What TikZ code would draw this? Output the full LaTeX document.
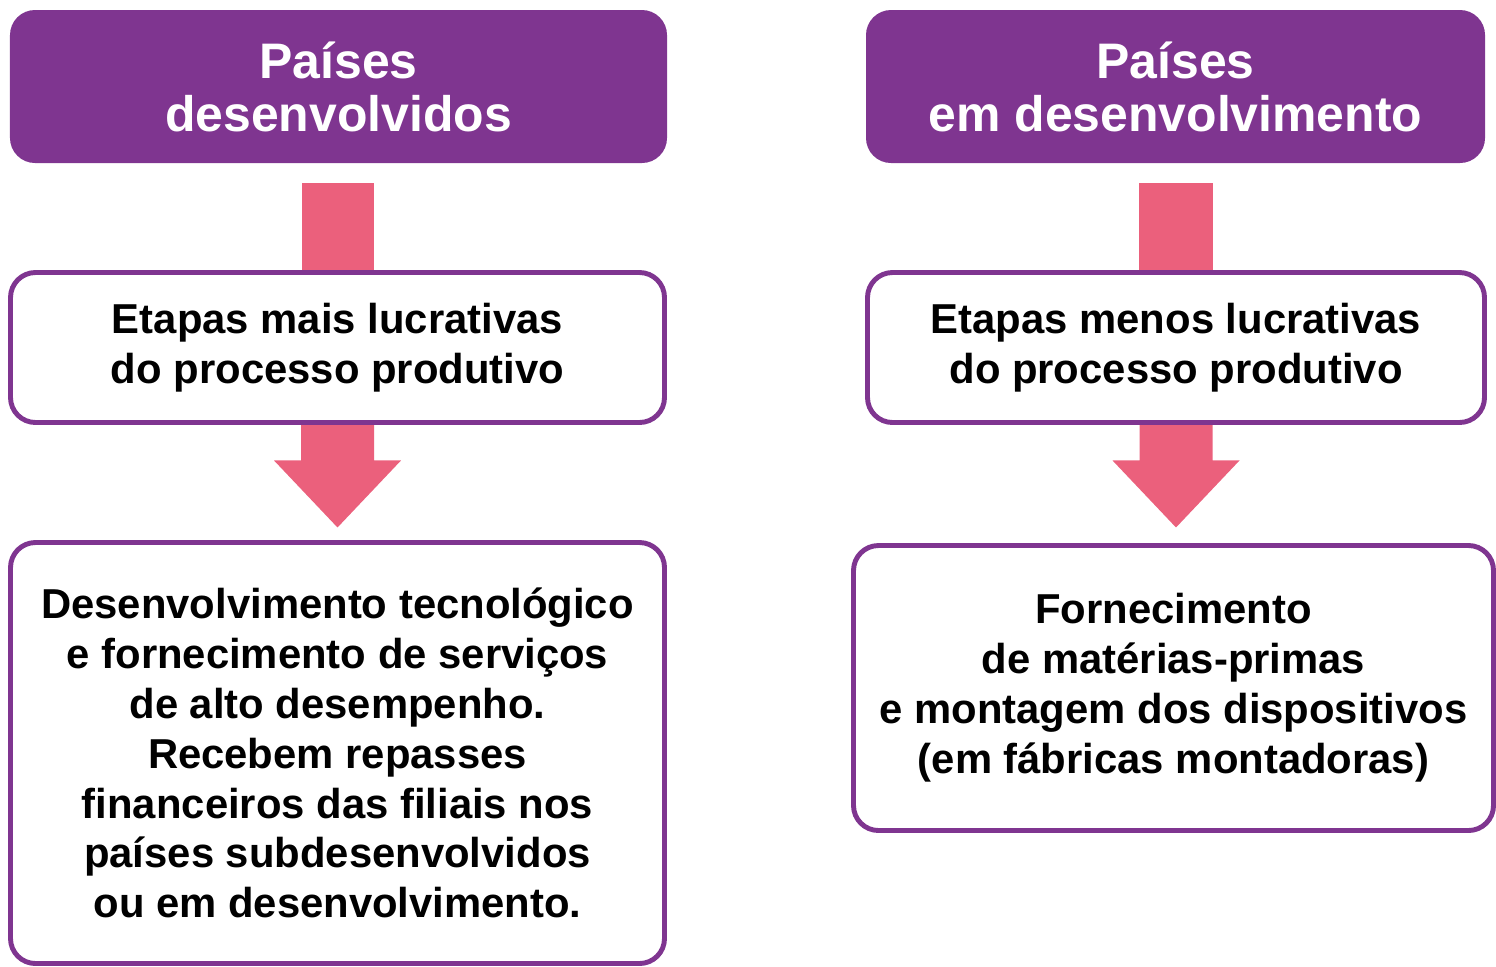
\documentclass[tikz,border=0pt]{standalone}
\usepackage{fontspec}
\setmainfont{Liberation Sans}
\usepackage{xcolor}
\usetikzlibrary{calc, positioning, backgrounds}
\definecolor{boxpurple}{HTML}{7F3590}
\definecolor{arrowpink}{HTML}{EB607C}
\newcommand{\fatarrow}[2]{\fill[arrowpink] ($(#1)+(-0.365,0)$) |- ($(#2)+(-0.635,0.67)$) -- (#2) -- ($(#2)+(0.635,0.67)$) -| ($(#1)+(0.365,0)$) -- cycle;}

\begin{document}
\begin{tikzpicture}[-,auto,
                    head node/.style={rectangle,rounded corners=0.25cm,fill=boxpurple,text=white,inner sep=0pt,align=center,font=\bfseries\fontsize{14.2}{15.1}\selectfont},
                    main node/.style={rectangle,rounded corners=0.25cm,draw=boxpurple,line width=1.4pt,fill=white,inner sep=0pt,align=center,font=\bfseries\fontsize{11.9}{14.2}\selectfont}]
\useasboundingbox (0,0) rectangle (14.96,-9.66);

\node[head node,minimum width=6.57cm,minimum height=1.53cm] (HeadLeft) at (3.385,-0.865) {Países\\desenvolvidos};
\node[head node,minimum width=6.19cm,minimum height=1.53cm] (HeadRight) at (11.755,-0.865) {Países\\em desenvolvimento};

\node[main node,minimum width=6.54cm,minimum height=1.50cm] (MidLeft) at (3.375,-3.475) {Etapas mais lucrativas\\do processo produtivo};
\node[main node,minimum width=6.17cm,minimum height=1.50cm] (MidRight) at (11.76,-3.475) {Etapas menos lucrativas\\do processo produtivo};

\node[main node,minimum width=6.54cm,minimum height=4.21cm] (LowLeft) at (3.375,-7.53) {Desenvolvimento tecnológico\\e fornecimento de serviços\\de alto desempenho.\\Recebem repasses\\financeiros das filiais nos\\países subdesenvolvidos\\ou em desenvolvimento.};
\node[main node,minimum width=6.40cm,minimum height=2.85cm] (LowRight) at (11.735,-6.88) {Fornecimento\\de matérias-primas\\e montagem dos dispositivos\\(em fábricas montadoras)};

\coordinate (TipLeft) at ($(MidLeft.south)+(0,-1.025)$);
\coordinate (TipRight) at ($(MidRight.south)+(0,-1.025)$);

\begin{scope}[on background layer]
  \fill[arrowpink] ($(HeadLeft.south)+(-0.365,-0.19)$) rectangle ($(MidLeft.north)+(0.365,0)$);
  \fill[arrowpink] ($(HeadRight.south)+(-0.365,-0.19)$) rectangle ($(MidRight.north)+(0.365,0)$);
  \fatarrow{MidLeft.south}{TipLeft}
  \fatarrow{MidRight.south}{TipRight}
\end{scope}

\end{tikzpicture}
\end{document}
